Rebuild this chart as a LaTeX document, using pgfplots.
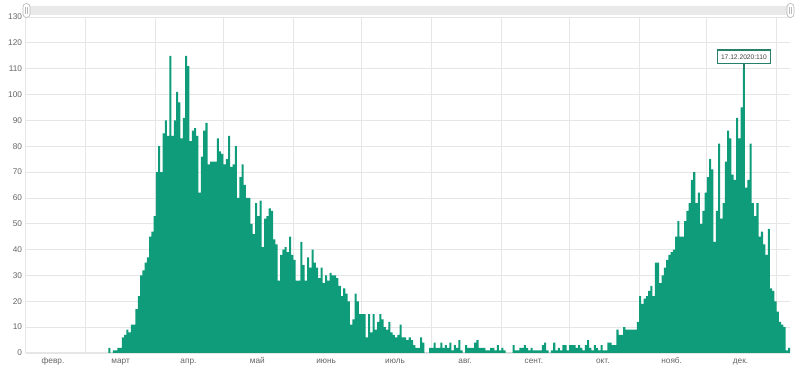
\documentclass[border=0pt]{standalone}
\usepackage{fontspec}
\setmainfont{Liberation Sans}
\usepackage{pgfplots}
\pgfplotsset{compat=1.18}
\usepackage{pgfplotstable}
\definecolor{barc}{RGB}{14,156,122}
\definecolor{tipc}{RGB}{38,128,106}
\definecolor{gridc}{RGB}{230,230,230}
\definecolor{txtc}{RGB}{100,100,100}
% day index: 0 = 1 March 2020
\pgfplotstableread{
d v
10 2
11 0
12 1
13 1
14 2
15 2
16 6
17 7
18 9
19 8
20 11
21 11
22 17
23 22
24 30
25 32
26 35
27 37
28 45
29 47
30 53
31 70
32 80
33 70
34 85
35 90
36 84
37 115
38 84
39 90
40 101
41 97
42 83
43 91
44 115
45 111
46 82
47 86
48 87
49 84
50 62
51 76
52 86
53 89
54 73
55 74
56 74
57 74
58 83
59 78
60 77
61 73
62 75
63 84
64 72
65 73
66 80
67 60
68 68
69 73
70 65
71 60
72 60
73 50
74 46
75 58
76 53
77 59
78 41
79 52
80 53
81 56
82 55
83 44
84 42
85 28
86 38
87 40
88 41
89 39
90 45
91 38
92 36
93 28
94 28
95 43
96 34
97 28
98 37
99 33
100 40
101 35
102 33
103 29
104 33
105 27
106 30
107 28
108 31
109 30
110 30
111 29
112 26
113 22
114 25
115 23
116 20
117 11
118 13
119 23
120 20
121 15
122 15
123 15
124 6
125 15
126 8
127 15
128 9
129 12
130 15
131 13
132 10
133 9
134 12
135 8
136 7
137 6
138 7
139 11
140 6
141 6
142 5
143 6
144 5
145 3
146 2
147 2
148 6
149 4
150 0
151 0
152 2
153 2
154 4
155 2
156 2
157 4
158 2
159 3
160 2
161 4
162 1
163 3
164 2
165 5
166 1
167 0
168 3
169 2
170 2
171 2
172 4
173 5
174 2
175 2
176 2
177 1
178 1
179 2
180 2
181 1
182 3
183 1
184 2
185 1
186 0
187 0
188 0
189 3
190 1
191 1
192 2
193 2
194 3
195 2
196 1
197 2
198 1
199 1
200 1
201 1
202 3
203 4
204 1
205 0
206 1
207 4
208 1
209 2
210 1
211 3
212 3
213 1
214 3
215 3
216 3
217 2
218 3
219 2
220 1
221 3
222 5
223 2
224 1
225 3
226 2
227 1
228 3
229 1
230 1
231 4
232 4
233 3
234 3
235 9
236 7
237 7
238 10
239 9
240 9
241 9
242 9
243 9
244 12
245 22
246 19
247 21
248 22
249 24
250 26
251 22
252 35
253 35
254 27
255 30
256 33
257 36
258 38
259 39
260 40
261 45
262 51
263 45
264 45
265 51
266 55
267 58
268 67
269 70
270 58
271 62
272 50
273 55
274 62
275 68
276 75
277 71
278 43
279 55
280 81
281 52
282 58
283 74
284 86
285 83
286 69
287 67
288 91
289 83
290 95
291 110
292 64
293 67
294 81
295 58
296 53
297 58
298 45
299 47
300 42
301 38
302 48
303 25
304 24
305 20
306 16
307 12
308 11
309 10
310 1
311 2
}\cases

\begin{document}
\begin{tikzpicture}[x=0.75pt,y=0.75pt]
\useasboundingbox (-25.5,-17) rectangle (774.5,353);
\begin{axis}[
  at={(0,0)}, anchor=south west,
  scale only axis, width=573.375pt, height=252pt,
  xmin=-27.16, xmax=311.4, ymin=0, ymax=130,
  ytick={0,10,...,130},
  ymajorgrids=true,
  major grid style={gridc, line width=0.6pt},
  axis x line*=bottom, axis y line*=left,
  axis line style={draw=gridc, line width=0.8pt},
  ytick style={draw=none},
  xtick style={draw=none},
  /pgf/number format/assume math mode=true,
  yticklabel style={font=\fontsize{6.2}{7}\selectfont, text=txtc, inner sep=0pt, anchor=east, xshift=-2.4pt},
  xtick={-15,15,45,75.5,106,136.5,167.5,198,228.5,259,289.5},
  xticklabels={февр.,март,апр.,май,июнь,июль,авг.,сент.,окт.,нояб.,дек.},
  xticklabel style={font=\fontsize{6.2}{7}\selectfont, text=txtc, inner sep=0pt,
     text height=4.6pt, text depth=1.4pt, anchor=north, yshift=-3.4pt},
  extra x ticks={-0.5,30.5,60.5,91.5,121.5,152.5,183.5,213.5,244.5,274.5,305.5},
  extra x tick labels={},
  extra x tick style={grid=major, major tick length=3pt, tick align=outside, tick style={draw=gridc, line width=0.6pt}},
  clip=false,
]
\addplot[ybar, bar width=0.9, bar shift=0pt, fill=barc, draw=none] table[x=d,y=v]{\cases};
\draw[tipc, line width=0.9pt] (axis cs:291,110) -- ([yshift=4pt]axis cs:291,110);
\node[draw=tipc, line width=0.9pt, fill=white, inner xsep=2.6pt, inner ysep=0pt,
      minimum height=10pt, anchor=south, text=black!75,
      font=\fontsize{5}{6}\selectfont] at ([yshift=3.5pt]axis cs:291,110) {17.12.2020:110};
\end{axis}
% range selector strip at top
\fill[gray!17, rounded corners=1.5] (1,338) rectangle (764,347);
\foreach \hx in {1,765}{
  \draw[gray!55, fill=white, rounded corners=2.5, line width=0.5pt] (\hx-3.5,335.5) rectangle (\hx+3.5,349.5);
  \draw[gray!55, line width=0.5pt] (\hx-0.8,339) -- (\hx-0.8,346);
  \draw[gray!55, line width=0.5pt] (\hx+0.8,339) -- (\hx+0.8,346);
}
\end{tikzpicture}
\end{document}
